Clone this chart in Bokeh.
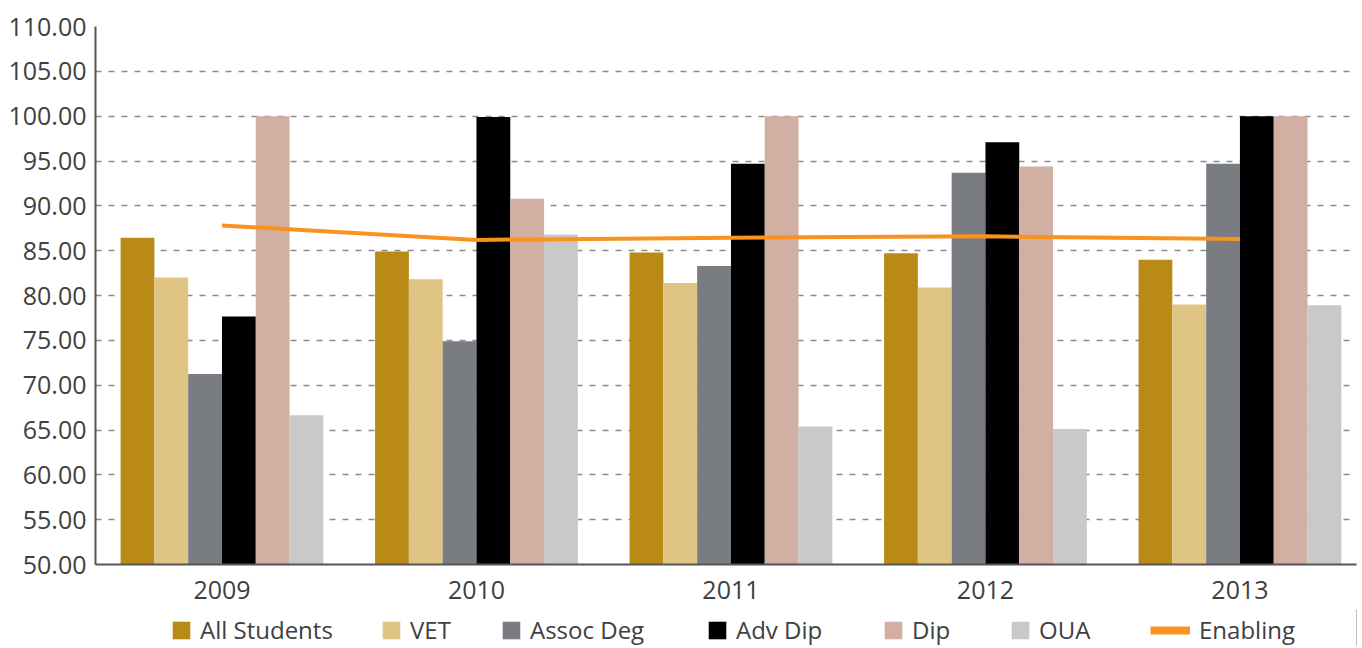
from bokeh.plotting import figure
from bokeh.layouts import column
from bokeh.models import (ColumnDataSource, Range1d, FixedTicker, NumeralTickFormatter,
                          Legend, LegendItem)
from bokeh.transform import dodge
from bokeh.embed import file_html
from bokeh.resources import INLINE

years = [2009, 2010, 2011, 2012, 2013]
series_names = ["All Students", "VET", "Assoc Deg", "Adv Dip", "Dip", "OUA"]
all_students = [86.45, 84.9, 84.8, 84.7, 84.0]
vet = [82.0, 81.8, 81.4, 80.9, 79.0]
assoc_deg = [71.25, 74.9, 83.3, 93.7, 94.7]
adv_dip = [77.65, 99.9, 94.7, 97.1, 100.0]
dip = [100.0, 90.8, 100.0, 94.4, 100.0]
oua = [66.65, 86.8, 65.4, 65.1, 78.9]
enabling = [87.8, 86.2, 86.45, 86.6, 86.3]
y_ticks = [50, 55, 60, 65, 70, 75, 80, 85, 90, 95, 100, 105, 110]

colors = ["#BA8A17", "#DFC483", "#797C80", "#000000", "#D1AFA3", "#C8C9C8"]
line_color = "#F7931E"
text_color = "#404040"
FONT = "Open Sans"

src = ColumnDataSource(dict(year=years, s0=all_students, s1=vet, s2=assoc_deg,
                            s3=adv_dip, s4=dip, s5=oua, en=enabling))

BORDER_L, BORDER_R, FRAME_W = 95, 4, 1261

p = figure(frame_width=FRAME_W, frame_height=538, output_backend="svg", toolbar_location=None,
           x_range=Range1d(2008.503, 2013.458), y_range=Range1d(50, 110),
           min_border_left=BORDER_L, min_border_right=BORDER_R, min_border_top=26,
           min_border_bottom=46)
p.outline_line_color = None
p.background_fill_color = "white"

bw = 0.1328
for i, name in enumerate(series_names):
    off = (i - 2.5) * bw
    p.vbar(x=dodge("year", off, range=p.x_range), top="s%d" % i, bottom=50,
           width=bw, source=src, fill_color=colors[i], line_color=None)

p.line(x="year", y="en", source=src, line_color=line_color, line_width=4)

# axes
p.yaxis.ticker = FixedTicker(ticks=y_ticks)
p.yaxis.formatter = NumeralTickFormatter(format="0.00")
p.xaxis.ticker = FixedTicker(ticks=years)
for ax in (p.xaxis, p.yaxis):
    ax.axis_line_color = "#555555"
    ax.axis_line_width = 2
    ax.major_tick_line_color = None
    ax.minor_tick_line_color = None
    ax.major_tick_out = 0
    ax.major_label_text_font = FONT
    ax.major_label_text_font_size = "25px"
    ax.major_label_text_color = text_color
p.yaxis.major_label_standoff = 9
p.xaxis.major_label_standoff = 16

p.xgrid.grid_line_color = None
p.ygrid.grid_line_color = "#8C8C8C"
p.ygrid.grid_line_dash = "6 7"
p.ygrid.grid_line_width = 1.5

# legend strip: a small figure holding only the key; its renderers reuse the
# same data but sit outside the strip's visible range
lg = figure(frame_width=FRAME_W, frame_height=36, output_backend="svg",
            toolbar_location=None, x_range=Range1d(0, 1), y_range=Range1d(0, 1),
            min_border_left=BORDER_L, min_border_right=BORDER_R,
            min_border_top=0, min_border_bottom=0)
lg.axis.visible = False
lg.grid.visible = False
lg.outline_line_color = None

renderers = []
for i, name in enumerate(series_names):
    r = lg.vbar(x="year", top="s%d" % i, width=0.1, source=src,
                fill_color=colors[i], line_color=None)
    renderers.append(r)
renderers.append(lg.line(x="year", y="en", source=src, line_color=line_color,
                         line_width=8))
labels = series_names + ["Enabling"]
key_x = [75, 285, 405, 611, 787, 914, 1055]
glyph_w = [22, 22, 22, 22, 22, 22, 40]

for lab, r, x, gw in zip(labels, renderers, key_x, glyph_w):
    leg = Legend(items=[LegendItem(label=lab, renderers=[r])], location=(x, 0),
                 orientation="horizontal", glyph_width=gw, glyph_height=22,
                 label_standoff=8 if gw == 22 else 9,
                 label_text_font=FONT, label_text_font_size="24px",
                 label_text_color=text_color, border_line_alpha=0,
                 background_fill_alpha=0, padding=0, margin=0)
    lg.add_layout(leg)

layout = column(p, lg, spacing=0)
open("out.html", "w").write(file_html(layout, INLINE))
